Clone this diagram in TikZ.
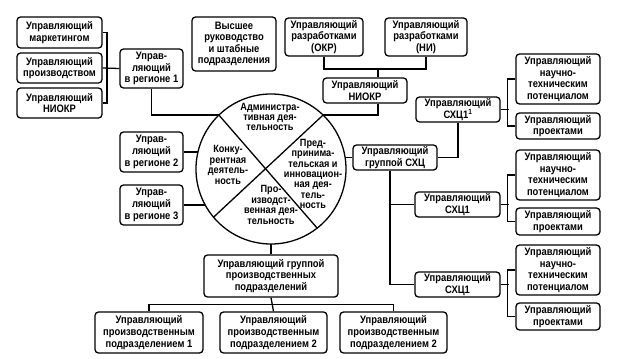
\documentclass[tikz,border=0pt]{standalone}
\usepackage{fontspec}
\setmainfont{Liberation Sans}[FakeStretch=0.87]
\usetikzlibrary{calc}
\begin{document}
\begin{tikzpicture}[x=1pt,y=-1pt,
  box/.style={draw, line width=1.3pt, rounded corners=3.5pt, align=center, inner sep=0pt,
    font=\fontsize{10.8}{11.6}\selectfont\bfseries},
  con/.style={line width=1.3pt},
  ctext/.style={align=center, inner sep=0pt, font=\fontsize{10.5}{10.4}\selectfont\bfseries}]
\fill[white] (0,0) rectangle (619,359);
\useasboundingbox (0,0) rectangle (619,359);

% left column
\node[box, minimum width=85pt, minimum height=31pt] (mk) at (59.5,32.5) {Управляющий\\маркетингом};
\node[box, minimum width=85pt, minimum height=30pt] (pr) at (59.5,68) {Управляющий\\производством};
\node[box, minimum width=85pt, minimum height=30pt] (nk) at (59.5,103) {Управляющий\\НИОКР};
\node[box, minimum width=63pt, minimum height=39pt] (r1) at (151.5,68.5) {Управ-\\ляющий\\в регионе 1};
\node[box, minimum width=63pt, minimum height=40pt] (r2) at (151.5,152) {Управ-\\ляющий\\в регионе 2};
\node[box, minimum width=63pt, minimum height=40pt] (r3) at (151.5,205) {Управ-\\ляющий\\в регионе 3};

% top
\node[box, minimum width=84pt, minimum height=54pt] (top) at (234,44) {Высшее\\руководство\\и штабные\\подразделения};
\node[box, minimum width=78pt, minimum height=38pt] (okr) at (324,37) {Управляющий\\разработками\\(ОКР)};
\node[box, minimum width=82pt, minimum height=38pt] (ni) at (426,37) {Управляющий\\разработками\\(НИ)};
\node[box, minimum width=84pt, minimum height=25pt] (niokr) at (365,90.5) {Управляющий\\НИОКР};

% right
\node[box, minimum width=84pt, minimum height=25pt] (sxc1) at (458,109.5) {Управляющий\\СХЦ1\textsuperscript{1}};
\node[box, minimum width=84pt, minimum height=25pt] (gsxc) at (395,157.5) {Управляющий\\группой СХЦ};
\node[box, minimum width=85pt, minimum height=25pt] (sxc2) at (457.5,204.5) {Управляющий\\СХЦ1};
\node[box, minimum width=85pt, minimum height=25pt] (sxc3) at (457.5,284.5) {Управляющий\\СХЦ1};
\node[box, minimum width=84pt, minimum height=50pt] (nt1) at (558,79) {Управляющий\\научно-\\техническим\\потенциалом};
\node[box, minimum width=84pt, minimum height=26pt] (pj1) at (558,126) {Управляющий\\проектами};
\node[box, minimum width=84pt, minimum height=50pt] (nt2) at (558,175) {Управляющий\\научно-\\техническим\\потенциалом};
\node[box, minimum width=84pt, minimum height=27pt] (pj2) at (558,221.5) {Управляющий\\проектами};
\node[box, minimum width=84pt, minimum height=50pt] (nt3) at (558,270) {Управляющий\\научно-\\техническим\\потенциалом};
\node[box, minimum width=84pt, minimum height=27pt] (pj3) at (558,316.5) {Управляющий\\проектами};

% bottom
\node[box, minimum width=134pt, minimum height=42pt] (gpp) at (271,276) {Управляющий группой\\производственных\\подразделений};
\node[box, minimum width=108pt, minimum height=41pt] (pp1) at (149,332.5) {Управляющий\\производственным\\подразделением 1};
\node[box, minimum width=107pt, minimum height=41pt] (pp2) at (273.5,332.5) {Управляющий\\производственным\\подразделением 2};
\node[box, minimum width=107pt, minimum height=41pt] (pp3) at (393.5,332.5) {Управляющий\\производственным\\подразделением 2};

% circle (named, drawn later)
\node[circle, minimum size=150pt, inner sep=0pt] (circ) at (271,169) {};

% connectors
\coordinate (lb) at (107,68);
\draw[con] (mk.east) -| (lb) |- (nk.east);
\draw[con] (pr.east) -- (r1.west);
\draw[con] (r1.south) |- (circ.134);
\draw[con] (r2.east) -- (circ.center |- r2.east);
\draw[con] (r3.east) -- (circ.center |- r3.east);

\coordinate (tb) at (378,69);
\draw[con] (okr.south) |- (tb) -| (ni.south);
\draw[con] (tb) -- (tb |- niokr.north);
\draw[con] (tb |- niokr.south) |- (circ.46);

\draw[con] (gsxc.west) -- (circ.center |- gsxc.west);
\draw[con] (gsxc.east) -| (sxc1.south);
\coordinate (gv) at (390,0);
\draw[con] (gsxc.south -| gv) |- (sxc3.west);
\draw[con] (sxc2.west) -- (sxc2.west -| gv);

\draw[con] (nt1.west) -- ++(-8,0) |- (pj1.west);
\draw[con] (sxc1.east) -- ++(8,0);
\draw[con] (nt2.west) -- ++(-8,0) |- (pj2.west);
\draw[con] (sxc2.east) -- ++(8,0);
\draw[con] (nt3.west) -- ++(-8,0) |- (pj3.west);
\draw[con] (sxc3.east) -- ++(8,0);

\draw[con] (gpp.north) -- (gpp.north |- circ.center);
\coordinate (hb) at ($(gpp.south)!0.5!(pp2.north)$);
\draw[con] (gpp.south) -- (pp2.north);
\draw[con] (pp1.north) |- (hb);
\draw[con] (pp3.north) |- (hb);

% circle on top
\draw[con, fill=white] (circ.center) circle[radius=75pt];
\draw[con] (circ.134) -- (circ.-52);
\draw[con] (circ.46) -- (circ.220);

\node[ctext] (adm) at (270,117) {Администра-\\тивная дея-\\тельность};
\node[ctext] (kon) at (228,165) {Конку-\\рентная\\деятель-\\ность};
\node[ctext] (pred) at (313,174) {Пред-\\принима-\\тельская и\\инновацион-\\ная дея-\\тель-\\ность};
\node[ctext] (proi) at (271,205) {Про-\\изводст-\\венная дея-\\тельность};
\end{tikzpicture}
\end{document}
